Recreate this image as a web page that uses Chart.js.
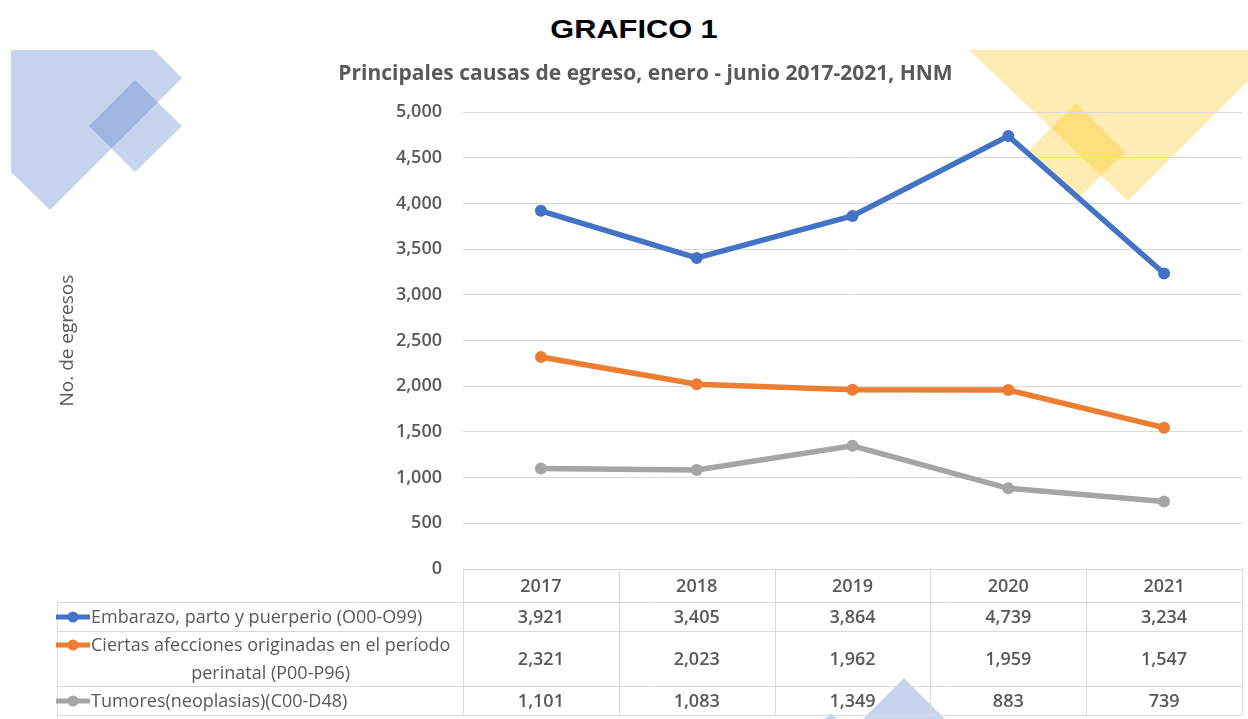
<!DOCTYPE html>
<html lang="es">
<head>
<meta charset="utf-8">
<title>Grafico 1</title>
<script src="https://cdn.jsdelivr.net/npm/chart.js@4/dist/chart.umd.min.js"></script>
<style>
  html, body { margin: 0; padding: 0; background: #fff; }
  #wrap { position: relative; width: 1248px; height: 719px; overflow: hidden; }
  #deco { position: absolute; left: 0; top: 0; }
  #heading {
    position: absolute; left: 634px; top: 17px;
    font: bold 25px/25px "Liberation Sans", Arial, sans-serif; color: #000;
    white-space: nowrap;
    transform: translateX(-50%) scaleX(1.23);
  }
  #chart { position: absolute; left: 0; top: 0; }
</style>
</head>
<body>
<div id="wrap">
  <!-- background decoration -->
  <svg id="deco" width="1248" height="719">
    <g fill="#4472C4" fill-opacity="0.3">
      <polygon points="11,50 154,50 182,78 50,210 11,172"/>
      <polygon points="135,80 182,126 135,172 89,126"/>
      <polygon points="904,678 945,719 863,719"/>
      <polygon points="831,713 837,719 825,719"/>
    </g>
    <g fill="#FFC000" fill-opacity="0.3">
      <polygon points="969,50 1248,50 1248,81 1128,201"/>
      <polygon points="1076,103 1125,152 1076,201 1027,152"/>
    </g>
  </svg>
  <div id="heading">GRAFICO 1</div>
  <canvas id="chart" width="1248" height="719"></canvas>
</div>
<script>
// data
const years = ["2017", "2018", "2019", "2020", "2021"];
const embarazo = [3921, 3405, 3864, 4739, 3234];
const perinatal = [2321, 2023, 1962, 1959, 1547];
const tumores = [1101, 1083, 1349, 883, 739];
const seriesLabels = [
  ["Embarazo, parto y puerperio (O00-O99)"],
  ["Ciertas afecciones originadas en el período", "perinatal (P00-P96)"],
  ["Tumores(neoplasias)(C00-D48)"]
];
const yMin = 0;
const yMax = 5000;
const yStep = 500;

const colors = ["#4472C4", "#ED7D31", "#A5A5A5"];
const textColor = "#595959";
const lineColor = "#D9D9D9";

Chart.defaults.font.family = "'Open Sans', sans-serif";
Chart.defaults.color = textColor;

const fmt = v => v.toLocaleString("en-US");

// data table under the plot, columns follow the x scale
const dataTable = {
  id: "dataTable",
  afterDraw(chart) {
    const { ctx, chartArea } = chart;
    const x = chart.scales.x;
    const step = x.getPixelForValue(1) - x.getPixelForValue(0);
    const top = chartArea.bottom;
    const rows = [top, top + 33, top + 62, top + 117, top + 146];
    const left = 57;

    ctx.save();
    ctx.strokeStyle = lineColor;
    ctx.lineWidth = 1;
    ctx.beginPath();
    ctx.moveTo(chartArea.left, top + 0.5);
    ctx.lineTo(chartArea.right, top + 0.5);
    for (let i = 1; i < rows.length; i++) {
      ctx.moveTo(left, rows[i] + 0.5);
      ctx.lineTo(chartArea.right, rows[i] + 0.5);
    }
    ctx.moveTo(left + 0.5, rows[1]);
    ctx.lineTo(left + 0.5, rows[4]);
    for (let i = 0; i <= years.length; i++) {
      const ex = Math.round(x.getPixelForValue(0) - step / 2 + i * step) + 0.5;
      ctx.moveTo(ex, top);
      ctx.lineTo(ex, rows[4]);
    }
    ctx.stroke();

    // header
    ctx.fillStyle = textColor;
    ctx.textAlign = "center";
    ctx.textBaseline = "middle";
    ctx.font = "600 18px 'Open Sans'";
    years.forEach((yr, i) => {
      ctx.fillText(yr, x.getPixelForValue(i), (rows[0] + rows[1]) / 2 + 1.5);
    });

    // rows
    const series = chart.data.datasets;
    series.forEach((ds, r) => {
      const cy = (rows[r + 1] + rows[r + 2]) / 2 + 1.5;
      ctx.font = "600 18px 'Open Sans'";
      ctx.textAlign = "center";
      ctx.fillStyle = textColor;
      ds.data.forEach((v, i) => ctx.fillText(fmt(v), x.getPixelForValue(i), cy));

      const lines = seriesLabels[r];
      const firstY = lines.length > 1 ? cy - 14 : cy;
      // legend key
      ctx.strokeStyle = ds.borderColor;
      ctx.lineWidth = 5;
      ctx.beginPath();
      ctx.moveTo(56, firstY - 1);
      ctx.lineTo(90, firstY - 1);
      ctx.stroke();
      ctx.fillStyle = ds.borderColor;
      ctx.beginPath();
      ctx.arc(73, firstY - 1, 5.5, 0, Math.PI * 2);
      ctx.fill();

      ctx.fillStyle = textColor;
      ctx.font = "18px 'Open Sans'";
      ctx.textAlign = "left";
      ctx.fillText(lines[0], 91, firstY);
      if (lines.length > 1) {
        const w = ctx.measureText(lines[0]).width;
        ctx.textAlign = "center";
        ctx.fillText(lines[1], 91 + w / 2, firstY + 28);
      }
    });
    ctx.restore();
  }
};

function lineSet(label, data, color) {
  return {
    label,
    data,
    borderColor: color,
    backgroundColor: color,
    borderWidth: 5.5,
    pointRadius: 6,
    pointBorderWidth: 0,
    pointBackgroundColor: color,
    tension: 0
  };
}

new Chart(document.getElementById("chart"), {
  type: "line",
  data: {
    labels: years,
    datasets: [
      lineSet(seriesLabels[0].join(" "), embarazo, colors[0]),
      lineSet(seriesLabels[1].join(" "), perinatal, colors[1]),
      lineSet(seriesLabels[2].join(" "), tumores, colors[2])
    ]
  },
  options: {
    responsive: false,
    animation: false,
    events: [],
    layout: { padding: { left: 46, right: 3, top: 0, bottom: 150 } },
    plugins: {
      legend: { display: false },
      tooltip: { enabled: false },
      title: {
        display: true,
        text: "Principales causas de egreso, enero - junio 2017-2021, HNM",
        color: textColor,
        font: { size: 21, weight: "bold" },
        padding: { top: 61, bottom: 26 }
      }
    },
    scales: {
      x: {
        display: false,
        offset: true
      },
      y: {
        min: yMin,
        max: yMax,
        border: { display: false },
        grid: { color: lineColor, drawTicks: false },
        ticks: {
          stepSize: yStep,
          padding: 21,
          color: textColor,
          font: { size: 18, weight: "600" },
          callback: v => fmt(v)
        },
        title: {
          display: true,
          text: "No. de egresos",
          color: textColor,
          font: { size: 19 },
          padding: { top: 10, bottom: 0 }
        },
        afterFit(scale) {
          scale.width = 417;
        }
      }
    }
  },
  plugins: [dataTable]
});
</script>
</body>
</html>
